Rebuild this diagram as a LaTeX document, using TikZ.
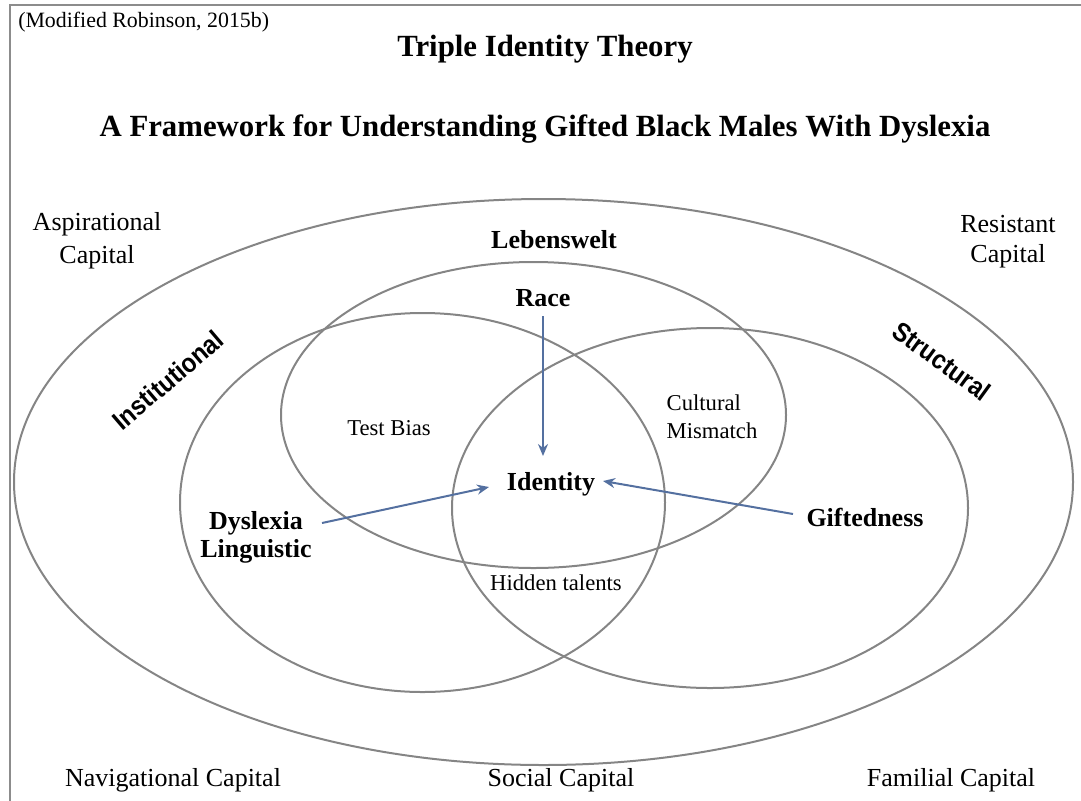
\documentclass[tikz,border=0pt]{standalone}
\usepackage{fontspec}
\setmainfont{Liberation Serif}
\newfontfamily\arialfam[FakeStretch=0.9]{Liberation Sans}
\usetikzlibrary{arrows.meta,shapes.geometric}
\definecolor{ringgray}{HTML}{858585}
\definecolor{framegray}{HTML}{8C8C8C}
\definecolor{arrblue}{HTML}{5470A0}
\tikzset{
  ring/.style={draw=ringgray, line width=1.5pt, shape=ellipse, inner sep=0pt},
  capt/.style={font=\fontsize{19.5pt}{24pt}\selectfont, align=center, inner sep=0pt},
  lbl/.style={font=\fontsize{17pt}{21pt}\selectfont, align=center, inner sep=0pt},
  bl/.style={font=\bfseries\fontsize{19.5pt}{21pt}\selectfont, align=center, inner sep=0pt},
  ttl/.style={font=\bfseries\fontsize{23.1pt}{26pt}\selectfont, inner sep=0pt},
  slant/.style={font=\arialfam\bfseries\fontsize{20pt}{22pt}\selectfont, inner sep=0pt},
  arr/.style={draw=arrblue, line width=1.5pt, -{Stealth[length=9pt,width=7.5pt]}},
}
\begin{document}
\begin{tikzpicture}[x=0.75pt,y=-0.75pt]
\useasboundingbox (0,0) rectangle (1081,800);
% frame
\draw[framegray, line width=1.5pt] (9.5,801) -- (9.5,4.5) -- (1082,4.5);
% rings
\node[ring, minimum width=794.25pt, minimum height=424.5pt] (outer) at (543.5,482) {};
\node[ring, minimum width=378.75pt, minimum height=229.5pt] (racering) at (533.5,415) {};
\node[ring, minimum width=363.75pt, minimum height=284.25pt] (dysring) at (422.5,502.5) {};
\node[ring, minimum width=387pt, minimum height=270pt] (giftring) at (710,508) {};
% texts
\node[lbl, anchor=west, font=\fontsize{16.4pt}{20pt}\selectfont] (modified) at (18,22) {(Modified Robinson, 2015b)};
\node[ttl] (title) at (545,49) {Triple Identity Theory};
\node[ttl] (subtitle) at (545,129) {A Framework for Understanding Gifted Black Males With Dyslexia};
\node[capt, font=\fontsize{19.5pt}{24.5pt}\selectfont] (aspir) at (97,240.5) {Aspirational\\Capital};
\node[capt, font=\fontsize{19.5pt}{22.5pt}\selectfont] (resist) at (1008,242) {Resistant\\Capital};
\node[bl] (leben) at (554,239.5) {Lebenswelt};
\node[bl] (race) at (543,298.5) {Race};
\node[slant, rotate=40.5] (instit) at (168,380) {Institutional};
\node[slant, rotate=-36] (struct) at (942,361) {Structural};
\node[lbl] (testbias) at (389,428) {Test Bias};
\node[lbl, align=left] (cultural) at (712,417) {Cultural\\Mismatch};
\node[bl] (identity) at (551,484) {Identity};
\node[bl] (dys) at (256,537) {Dyslexia\\Linguistic};
\node[bl] (gifted) at (865,517) {Giftedness};
\node[lbl] (hidden) at (556,583) {Hidden talents};
\node[capt] (nav) at (173,780) {Navigational Capital};
\node[capt] (social) at (561,780) {Social Capital};
\node[capt] (familial) at (951,780) {Familial Capital};
% arrow ends
\coordinate (raceout) at (543,316);
\coordinate (racein) at (543,456);
\coordinate (dysout) at (322,523);
\coordinate (dysin) at (489,487);
\coordinate (giftout) at (793,514);
\coordinate (giftin) at (603,481);
\draw[arr] (raceout) -- (racein);
\draw[arr] (dysout) -- (dysin);
\draw[arr] (giftout) -- (giftin);
\end{tikzpicture}
\end{document}
